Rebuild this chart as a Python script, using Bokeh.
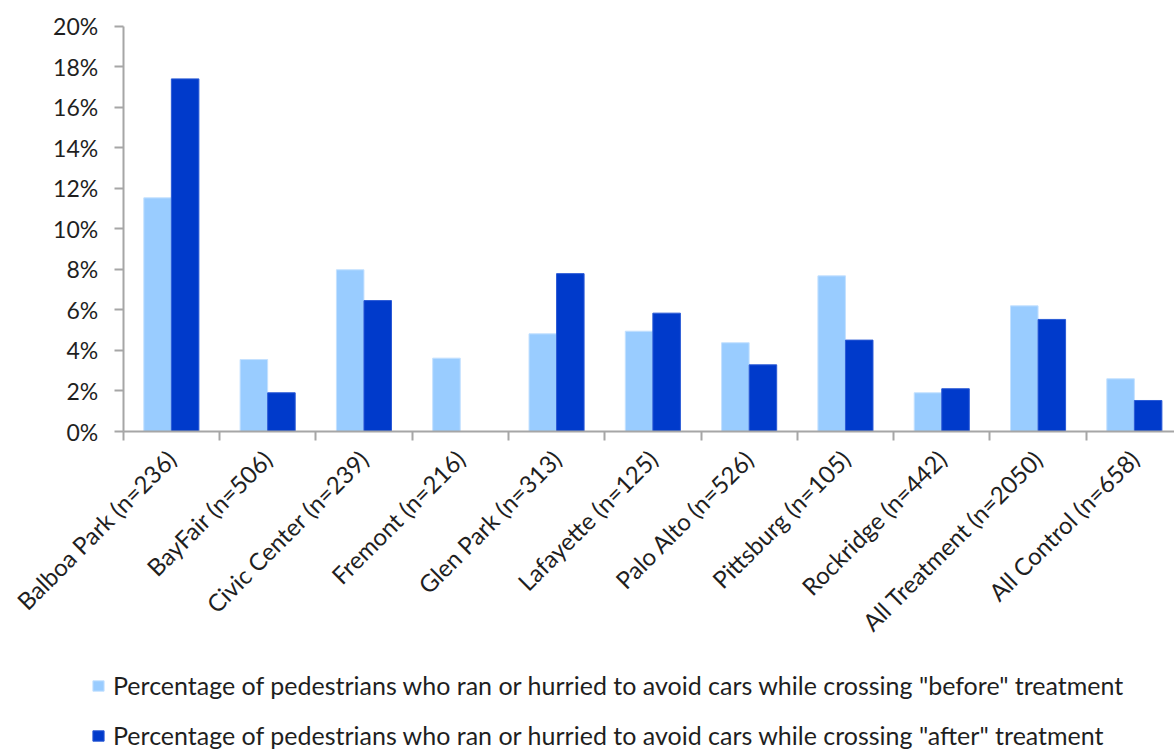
import math
from bokeh.plotting import figure
from bokeh.models import (Range1d, FixedTicker, NumeralTickFormatter, Legend, LegendItem,
                          ColumnDataSource)
from bokeh.embed import file_html
from bokeh.resources import INLINE

categories = ["Balboa Park (n=236)", "BayFair (n=506)", "Civic Center (n=239)", "Fremont (n=216)",
              "Glen Park (n=313)", "Lafayette (n=125)", "Palo Alto (n=526)", "Pittsburg (n=105)",
              "Rockridge (n=442)", "All Treatment (n=2050)", "All Control (n=658)"]
before = [0.1153, 0.0355, 0.0798, 0.0362, 0.0482, 0.0495, 0.0438, 0.0768, 0.0191, 0.0620, 0.0260]
after = [0.1740, 0.0191, 0.0646, 0.0, 0.0779, 0.0584, 0.0329, 0.0451, 0.0211, 0.0553, 0.0153]
y_ticks = [0.0, 0.02, 0.04, 0.06, 0.08, 0.10, 0.12, 0.14, 0.16, 0.18, 0.20]

label_before = 'Percentage of pedestrians who ran or hurried to avoid cars while crossing "before" treatment'
label_after = 'Percentage of pedestrians who ran or hurried to avoid cars while crossing "after" treatment'

FONT = "Lato"
AXIS_COLOR = "#a6a6a6"
TEXT_COLOR = "#1f1f1f"
C_BEFORE = "#99ccff"
C_AFTER = "#003acb"

W, H = 1174, 751
# layout in pixels (the whole canvas is the frame; axes are pinned at 0)
X0_PX, CAT_PX = 122.7, 96.3          # left of first category, width of one category
Y0_PX, Y20_PX = 431.0, 25.7          # pixel rows of 0% and 20%
px_per_unit_y = (Y0_PX - Y20_PX) / 0.20

n = len(categories)
centers = [i + 0.5 for i in range(n)]
bw = 0.286

src = ColumnDataSource(dict(
    xb=[c - bw / 2 for c in centers],
    xa=[c + bw / 2 for c in centers],
    before=before,
    after=after,
))

x_range = Range1d(-X0_PX / CAT_PX, (W - X0_PX) / CAT_PX)
y_range = Range1d(-(H - Y0_PX) / px_per_unit_y, 0.20 + Y20_PX / px_per_unit_y)

p = figure(width=W, height=H, output_backend="svg", toolbar_location=None,
           x_range=x_range, y_range=y_range, min_border=0)
p.outline_line_color = None
p.xgrid.visible = False
p.ygrid.visible = False
p.background_fill_color = "white"
p.border_fill_color = "white"

rb = p.vbar(x="xb", top="before", width=bw, bottom=0, source=src,
            fill_color=C_BEFORE, line_color="#c4e1ff", line_width=1)
ra = p.vbar(x="xa", top="after", width=bw, bottom=0, source=src,
            fill_color=C_AFTER, line_color="#2a5ad6", line_width=1)

# y axis
p.yaxis.fixed_location = 0
p.yaxis.bounds = (0, 0.20)
p.yaxis.ticker = FixedTicker(ticks=y_ticks)
p.yaxis.formatter = NumeralTickFormatter(format="0%")
p.yaxis.axis_line_color = AXIS_COLOR
p.yaxis.axis_line_width = 2
p.yaxis.major_tick_line_color = AXIS_COLOR
p.yaxis.major_tick_line_width = 2
p.yaxis.major_tick_out = 9
p.yaxis.major_tick_in = 0
p.yaxis.minor_tick_line_color = None
p.yaxis.major_label_text_font = FONT
p.yaxis.major_label_text_font_size = "23px"
p.yaxis.major_label_text_color = TEXT_COLOR
p.yaxis.major_label_standoff = 16

# x axis: labels at centers, boundary ticks as minor ticks
p.xaxis.fixed_location = 0
p.xaxis.bounds = (0, n)
p.xaxis.ticker = FixedTicker(ticks=centers, minor_ticks=list(range(n + 1)))
p.xaxis.major_label_overrides = {c: lab for c, lab in zip(centers, categories)}
p.xaxis.major_label_orientation = math.pi / 4
p.xaxis.major_tick_line_color = None
p.xaxis.major_tick_out = 0
p.xaxis.major_tick_in = 0
p.xaxis.minor_tick_line_color = AXIS_COLOR
p.xaxis.minor_tick_line_width = 2
p.xaxis.minor_tick_out = 9
p.xaxis.minor_tick_in = 0
p.xaxis.axis_line_color = AXIS_COLOR
p.xaxis.axis_line_width = 2
p.xaxis.major_label_text_font = FONT
p.xaxis.major_label_text_font_size = "24px"
p.xaxis.major_label_text_color = TEXT_COLOR
p.xaxis.major_label_standoff = 14

legend = Legend(items=[LegendItem(label=label_before, renderers=[rb]),
                       LegendItem(label=label_after, renderers=[ra])],
                orientation="vertical", location=(91, 1),
                label_text_font=FONT, label_text_font_size="25px", label_text_color=TEXT_COLOR,
                glyph_width=14, glyph_height=13, label_height=26, label_standoff=8, spacing=20,
                padding=0, margin=0, border_line_color=None, background_fill_alpha=0)
p.add_layout(legend, "center")

open("out.html", "w").write(file_html(p, INLINE))
